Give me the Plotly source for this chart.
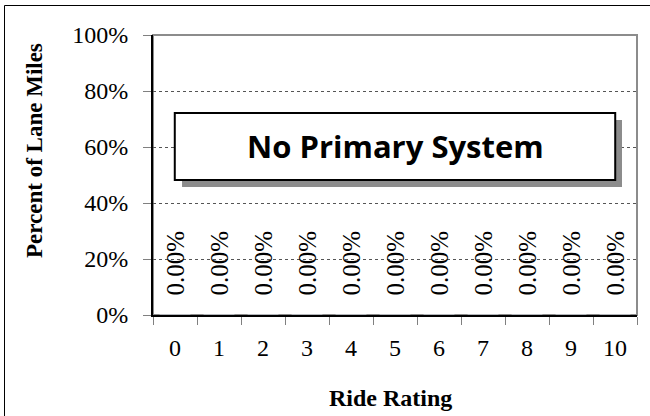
import plotly.graph_objects as go

# Data
ratings = [str(i) for i in range(11)]
percent_lane_miles = [0, 0, 0, 0, 0, 0, 0, 0, 0, 0, 0]
bar_labels = ["0.00%"] * 11
y_ticks = [0, 0.2, 0.4, 0.6, 0.8, 1.0]
y_tick_text = ["0%", "20%", "40%", "60%", "80%", "100%"]

serif = "Liberation Serif, Times New Roman, serif"

fig = go.Figure(go.Bar(
    x=ratings,
    y=percent_lane_miles,
    marker=dict(color="#4f81bd"),
    hoverinfo="skip",
))

# vertical value labels sitting above each (empty) bar
for cat, val, lab in zip(ratings, percent_lane_miles, bar_labels):
    fig.add_annotation(
        x=cat, y=val, text=lab, showarrow=False, textangle=-90,
        xanchor="center", yanchor="bottom", yshift=17,
        font=dict(family=serif, size=25, color="black"),
    )

# plot-area frame: grey top/right edges, black axis lines drawn by axes
fig.add_shape(type="rect", xref="paper", yref="paper", x0=0, x1=1, y0=0, y1=1,
              line=dict(color="#8c8c8c", width=2), layer="below")

# "No Primary System" box with drop shadow
fig.add_shape(type="rect", xref="paper", yref="paper",
              x0=0.060, x1=0.969, y0=0.457, y1=0.696,
              line=dict(width=0), fillcolor="#8c8c8c")
fig.add_shape(type="rect", xref="paper", yref="paper",
              x0=0.045, x1=0.955, y0=0.482, y1=0.721,
              line=dict(color="black", width=2), fillcolor="white")
fig.add_annotation(
    x=0.5, y=0.602, xref="paper", yref="paper", text="<b>No Primary System</b>",
    xanchor="center", yanchor="middle",
    showarrow=False, font=dict(family="Open Sans", size=31, color="black"),
)

# outer chart border
fig.add_shape(type="rect", xref="paper", yref="paper",
              x0=(4.5 - 153) / 484, x1=1.05, y0=-0.4, y1=(315 - 5.5) / 280,
              line=dict(color="black", width=1))

# axis titles
fig.add_annotation(
    x=(34 - 153) / 484, y=(315 - 151) / 280, xref="paper", yref="paper",
    xanchor="center", yanchor="middle",
    text="<b>Percent of Lane Miles</b>", textangle=-90, showarrow=False,
    font=dict(family=serif, size=23, color="black"),
)
fig.add_annotation(
    x=(390 - 153) / 484, y=(315 - 398) / 280, xref="paper", yref="paper",
    xanchor="center", yanchor="middle",
    text="<b>Ride Rating</b>", showarrow=False,
    font=dict(family=serif, size=24, color="black"),
)

fig.update_layout(
    width=650, height=416,
    margin=dict(l=153, r=13, t=35, b=101),
    paper_bgcolor="white", plot_bgcolor="white",
    showlegend=False,
    bargap=0.3,
)

fig.update_xaxes(
    type="category",
    showline=True, linecolor="black", linewidth=2,
    ticks="outside", ticklen=8, tickcolor="#808080", tickson="boundaries",
    ticklabelstandoff=10,
    tickfont=dict(family=serif, size=24, color="black"),
    showgrid=False, zeroline=False,
)
fig.update_yaxes(
    range=[0, 1],
    tickvals=y_ticks, ticktext=y_tick_text,
    showline=True, linecolor="black", linewidth=2,
    ticks="outside", ticklen=8, tickcolor="#808080",
    ticklabelstandoff=10,
    tickfont=dict(family=serif, size=24, color="black"),
    showgrid=True, gridcolor="#555555", gridwidth=1, griddash="dot",
    zeroline=False,
)

fig.write_html("out.html", config={"displayModeBar": False},
               post_script="document.body.style.margin='0';")
